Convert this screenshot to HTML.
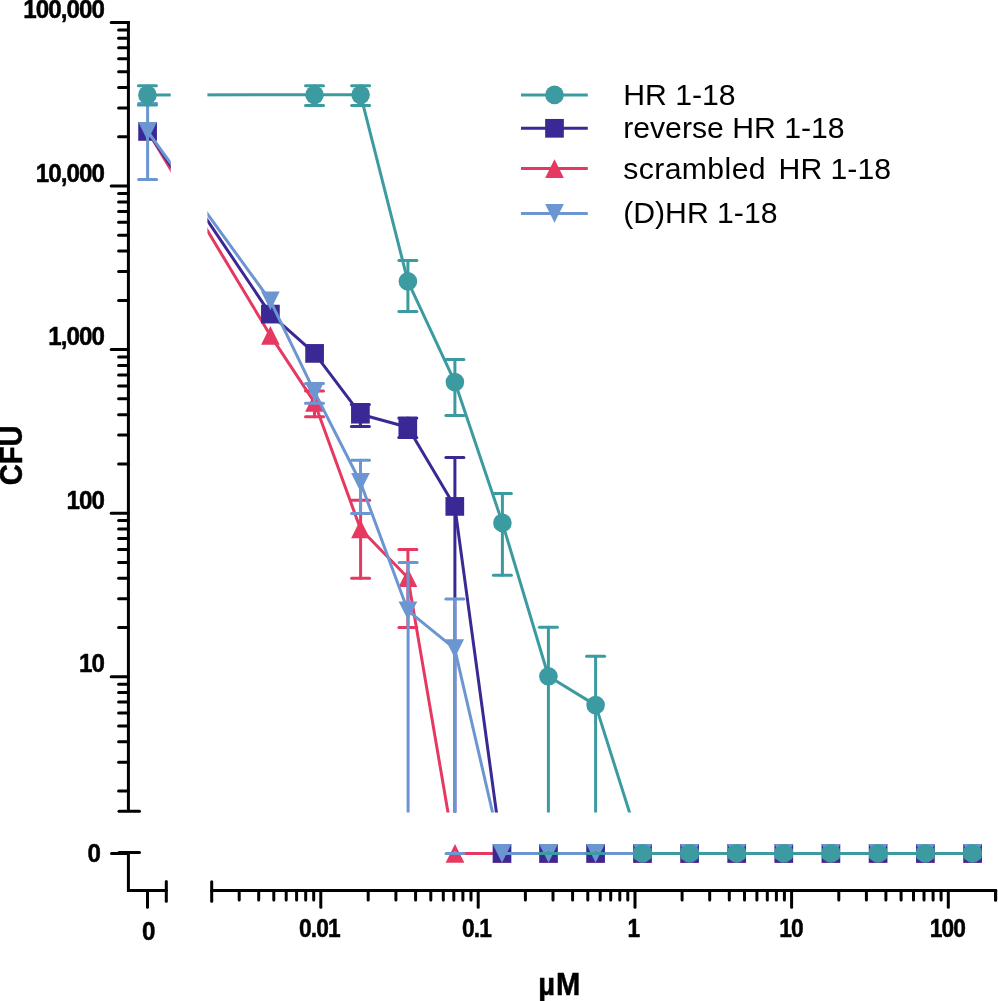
<!DOCTYPE html>
<html><head><meta charset="utf-8"><title>CFU</title>
<style>html,body{margin:0;padding:0;background:#fff}body{width:998px;height:1001px;overflow:hidden}svg{display:block;will-change:transform}text{font-family:"Liberation Sans",sans-serif}</style></head><body>
<svg width="998" height="1001" viewBox="0 0 998 1001">
<rect width="998" height="1001" fill="#fff"/>
<defs>
<clipPath id="cu"><rect x="120" y="0" width="50.7" height="812.5"/><rect x="207.4" y="0" width="800" height="812.5"/></clipPath>
</defs>
<g stroke="#000" stroke-width="3" stroke-linecap="round" fill="none">
<path stroke-linecap="butt" d="M128.4 20.9 V811.0"/>
<path d="M119.0 811.2 H139.5"/>
<path d="M119.0 852.5 H139.5"/>
<path d="M111.5 853.4 H128.4"/>
<path d="M128.4 852.5 V890.5 H166.3"/>
<path d="M166.3 881.5 V901.3"/>
<path d="M147.5 890.5 V907.2"/>
<path d="M211.7 881.7 V901.2"/>
<path d="M211.7 890.5 H995.6"/>
<path d="M111.2 22.4 H128.4"/>
<path d="M111.2 186.0 H128.4"/>
<path d="M118.6 136.8 H128.4"/>
<path d="M118.6 108.0 H128.4"/>
<path d="M118.6 87.5 H128.4"/>
<path d="M118.6 71.7 H128.4"/>
<path d="M118.6 58.7 H128.4"/>
<path d="M118.6 47.8 H128.4"/>
<path d="M118.6 38.3 H128.4"/>
<path d="M118.6 29.9 H128.4"/>
<path d="M111.2 349.6 H128.4"/>
<path d="M118.6 300.4 H128.4"/>
<path d="M118.6 271.5 H128.4"/>
<path d="M118.6 251.1 H128.4"/>
<path d="M118.6 235.3 H128.4"/>
<path d="M118.6 222.3 H128.4"/>
<path d="M118.6 211.4 H128.4"/>
<path d="M118.6 201.9 H128.4"/>
<path d="M118.6 193.5 H128.4"/>
<path d="M111.2 513.2 H128.4"/>
<path d="M118.6 463.9 H128.4"/>
<path d="M118.6 435.1 H128.4"/>
<path d="M118.6 414.7 H128.4"/>
<path d="M118.6 398.8 H128.4"/>
<path d="M118.6 385.9 H128.4"/>
<path d="M118.6 374.9 H128.4"/>
<path d="M118.6 365.4 H128.4"/>
<path d="M118.6 357.1 H128.4"/>
<path d="M111.2 676.7 H128.4"/>
<path d="M118.6 627.5 H128.4"/>
<path d="M118.6 598.7 H128.4"/>
<path d="M118.6 578.3 H128.4"/>
<path d="M118.6 562.4 H128.4"/>
<path d="M118.6 549.4 H128.4"/>
<path d="M118.6 538.5 H128.4"/>
<path d="M118.6 529.0 H128.4"/>
<path d="M118.6 520.6 H128.4"/>
<path d="M118.6 791.1 H128.4"/>
<path d="M118.6 762.3 H128.4"/>
<path d="M118.6 741.8 H128.4"/>
<path d="M118.6 726.0 H128.4"/>
<path d="M118.6 713.0 H128.4"/>
<path d="M118.6 702.1 H128.4"/>
<path d="M118.6 692.6 H128.4"/>
<path d="M118.6 684.2 H128.4"/>
<path d="M239.2 890.5 V900.1"/>
<path d="M258.7 890.5 V900.1"/>
<path d="M273.8 890.5 V900.1"/>
<path d="M286.2 890.5 V900.1"/>
<path d="M296.6 890.5 V900.1"/>
<path d="M305.7 890.5 V900.1"/>
<path d="M313.7 890.5 V900.1"/>
<path d="M320.8 890.5 V907.3"/>
<path d="M368.2 890.5 V900.1"/>
<path d="M395.9 890.5 V900.1"/>
<path d="M415.6 890.5 V900.1"/>
<path d="M430.8 890.5 V900.1"/>
<path d="M443.3 890.5 V900.1"/>
<path d="M453.8 890.5 V900.1"/>
<path d="M462.9 890.5 V900.1"/>
<path d="M471.0 890.5 V900.1"/>
<path d="M478.2 890.5 V907.3"/>
<path d="M525.4 890.5 V900.1"/>
<path d="M553.0 890.5 V900.1"/>
<path d="M572.6 890.5 V900.1"/>
<path d="M587.8 890.5 V900.1"/>
<path d="M600.2 890.5 V900.1"/>
<path d="M610.7 890.5 V900.1"/>
<path d="M619.8 890.5 V900.1"/>
<path d="M627.8 890.5 V900.1"/>
<path d="M635.0 890.5 V907.3"/>
<path d="M682.1 890.5 V900.1"/>
<path d="M709.7 890.5 V900.1"/>
<path d="M729.3 890.5 V900.1"/>
<path d="M744.5 890.5 V900.1"/>
<path d="M756.9 890.5 V900.1"/>
<path d="M767.3 890.5 V900.1"/>
<path d="M776.4 890.5 V900.1"/>
<path d="M784.4 890.5 V900.1"/>
<path d="M791.6 890.5 V907.3"/>
<path d="M838.8 890.5 V900.1"/>
<path d="M866.4 890.5 V900.1"/>
<path d="M885.9 890.5 V900.1"/>
<path d="M901.1 890.5 V900.1"/>
<path d="M913.5 890.5 V900.1"/>
<path d="M924.0 890.5 V900.1"/>
<path d="M933.1 890.5 V900.1"/>
<path d="M941.1 890.5 V900.1"/>
<path d="M948.3 890.5 V907.3"/>
<path d="M995.6 890.5 V900.1"/>
<path d="M995.6 890.5 V900.1"/>
</g>
<text transform="translate(104.00 18.10) scale(0.930 1)" text-anchor="end" font-size="26.0" font-weight="bold" stroke="#000" stroke-width="0.5" stroke-linejoin="round" letter-spacing="-1.00">100,000</text>
<text transform="translate(104.00 181.60) scale(0.930 1)" text-anchor="end" font-size="26.0" font-weight="bold" stroke="#000" stroke-width="0.5" stroke-linejoin="round" letter-spacing="-1.00">10,000</text>
<text transform="translate(104.00 345.00) scale(0.930 1)" text-anchor="end" font-size="26.0" font-weight="bold" stroke="#000" stroke-width="0.5" stroke-linejoin="round" letter-spacing="-1.00">1,000</text>
<text transform="translate(104.00 509.00) scale(0.930 1)" text-anchor="end" font-size="26.0" font-weight="bold" stroke="#000" stroke-width="0.5" stroke-linejoin="round" letter-spacing="-1.00">100</text>
<text transform="translate(104.00 672.40) scale(0.930 1)" text-anchor="end" font-size="26.0" font-weight="bold" stroke="#000" stroke-width="0.5" stroke-linejoin="round" letter-spacing="-1.00">10</text>
<text transform="translate(100.00 862.00) scale(0.930 1)" text-anchor="end" font-size="26.0" font-weight="bold" stroke="#000" stroke-width="0.5" stroke-linejoin="round" letter-spacing="-1.00">0</text>
<text transform="translate(148.30 940.40) scale(0.930 1)" text-anchor="middle" font-size="26.0" font-weight="bold" stroke="#000" stroke-width="0.5" stroke-linejoin="round" letter-spacing="-1.00">0</text>
<text transform="translate(319.40 936.80) scale(0.875 1)" text-anchor="middle" font-size="26.0" font-weight="bold" stroke="#000" stroke-width="0.5" stroke-linejoin="round" letter-spacing="-1.00">0.01</text>
<text transform="translate(476.40 936.80) scale(0.875 1)" text-anchor="middle" font-size="26.0" font-weight="bold" stroke="#000" stroke-width="0.5" stroke-linejoin="round" letter-spacing="-1.00">0.1</text>
<text transform="translate(633.30 936.80) scale(0.875 1)" text-anchor="middle" font-size="26.0" font-weight="bold" stroke="#000" stroke-width="0.5" stroke-linejoin="round" letter-spacing="-1.00">1</text>
<text transform="translate(791.10 936.80) scale(0.875 1)" text-anchor="middle" font-size="26.0" font-weight="bold" stroke="#000" stroke-width="0.5" stroke-linejoin="round" letter-spacing="-1.00">10</text>
<text transform="translate(947.30 936.80) scale(0.875 1)" text-anchor="middle" font-size="26.0" font-weight="bold" stroke="#000" stroke-width="0.5" stroke-linejoin="round" letter-spacing="-1.00">100</text>
<text transform="translate(559.8 995.0) scale(0.945 1)" text-anchor="middle" font-size="30.8" letter-spacing="1.0" font-weight="bold" stroke="#000" stroke-width="0.5">µM</text>
<text transform="translate(21.6 455.3) rotate(-90) scale(0.945 1)" text-anchor="middle" font-size="30.8" font-weight="bold" stroke="#000" stroke-width="0.5">CFU</text>
<g clip-path="url(#cu)" stroke="#e63962" stroke-width="3" fill="none" stroke-linecap="round">
<path d="M314.5 390.9 V416.8"/>
<path d="M305.5 390.9 H323.5"/>
<path d="M305.5 416.8 H323.5"/>
<path d="M360.6 500.2 V578.2"/>
<path d="M351.6 500.2 H369.6"/>
<path d="M351.6 578.2 H369.6"/>
<path d="M407.9 549.4 V627.6"/>
<path d="M398.9 549.4 H416.9"/>
<path d="M398.9 627.6 H416.9"/>
<polyline stroke-linejoin="round" points="147.6,131.0 270.4,335.4 314.5,402.4 360.5,529.0 407.9,577.7 455.0,853.4"/>
</g>
<path d="M455.0 853.4 H972.6" stroke="#e63962" stroke-width="3" fill="none"/>
<path d="M138.25 140.30 L156.95 140.30 L147.60 121.60 Z" fill="#e63962"/>
<path d="M261.05 344.70 L279.75 344.70 L270.40 326.00 Z" fill="#e63962"/>
<path d="M305.15 411.70 L323.85 411.70 L314.50 393.00 Z" fill="#e63962"/>
<path d="M351.15 538.30 L369.85 538.30 L360.50 519.60 Z" fill="#e63962"/>
<path d="M398.60 587.00 L417.30 587.00 L407.95 568.30 Z" fill="#e63962"/>
<path d="M445.65 862.70 L464.35 862.70 L455.00 844.00 Z" fill="#e63962"/>
<path d="M492.65 862.70 L511.35 862.70 L502.00 844.00 Z" fill="#e63962"/>
<path d="M539.15 862.70 L557.85 862.70 L548.50 844.00 Z" fill="#e63962"/>
<path d="M586.25 862.70 L604.95 862.70 L595.60 844.00 Z" fill="#e63962"/>
<path d="M633.15 862.70 L651.85 862.70 L642.50 844.00 Z" fill="#e63962"/>
<path d="M680.25 862.70 L698.95 862.70 L689.60 844.00 Z" fill="#e63962"/>
<path d="M727.35 862.70 L746.05 862.70 L736.70 844.00 Z" fill="#e63962"/>
<path d="M774.45 862.70 L793.15 862.70 L783.80 844.00 Z" fill="#e63962"/>
<path d="M821.55 862.70 L840.25 862.70 L830.90 844.00 Z" fill="#e63962"/>
<path d="M868.75 862.70 L887.45 862.70 L878.10 844.00 Z" fill="#e63962"/>
<path d="M916.05 862.70 L934.75 862.70 L925.40 844.00 Z" fill="#e63962"/>
<path d="M963.25 862.70 L981.95 862.70 L972.60 844.00 Z" fill="#e63962"/>
<g clip-path="url(#cu)" stroke="#3a2994" stroke-width="3" fill="none" stroke-linecap="round">
<path d="M360.4 404.5 V426.4"/>
<path d="M351.4 404.5 H369.4"/>
<path d="M351.4 426.4 H369.4"/>
<path d="M407.8 418.1 V437.4"/>
<path d="M398.8 418.1 H416.8"/>
<path d="M398.8 437.4 H416.8"/>
<path d="M454.9 457.4 V830.0"/>
<path d="M445.9 457.4 H463.9"/>
<polyline stroke-linejoin="round" points="147.6,131.4 270.4,314.1 314.6,353.4 360.4,414.2 407.8,427.3 454.8,506.4 502.0,853.4"/>
</g>
<path d="M502.0 853.4 H972.6" stroke="#3a2994" stroke-width="3" fill="none"/>
<rect x="138.25" y="122.05" width="18.7" height="18.7" fill="#3a2994"/>
<rect x="261.05" y="304.75" width="18.7" height="18.7" fill="#3a2994"/>
<rect x="305.25" y="344.05" width="18.7" height="18.7" fill="#3a2994"/>
<rect x="351.05" y="404.85" width="18.7" height="18.7" fill="#3a2994"/>
<rect x="398.45" y="417.95" width="18.7" height="18.7" fill="#3a2994"/>
<rect x="445.45" y="497.05" width="18.7" height="18.7" fill="#3a2994"/>
<rect x="492.65" y="844.05" width="18.7" height="18.7" fill="#3a2994"/>
<rect x="539.15" y="844.05" width="18.7" height="18.7" fill="#3a2994"/>
<rect x="586.25" y="844.05" width="18.7" height="18.7" fill="#3a2994"/>
<rect x="633.15" y="844.05" width="18.7" height="18.7" fill="#3a2994"/>
<rect x="680.25" y="844.05" width="18.7" height="18.7" fill="#3a2994"/>
<rect x="727.35" y="844.05" width="18.7" height="18.7" fill="#3a2994"/>
<rect x="774.45" y="844.05" width="18.7" height="18.7" fill="#3a2994"/>
<rect x="821.55" y="844.05" width="18.7" height="18.7" fill="#3a2994"/>
<rect x="868.75" y="844.05" width="18.7" height="18.7" fill="#3a2994"/>
<rect x="916.05" y="844.05" width="18.7" height="18.7" fill="#3a2994"/>
<rect x="963.25" y="844.05" width="18.7" height="18.7" fill="#3a2994"/>
<g clip-path="url(#cu)" stroke="#6c96d2" stroke-width="3" fill="none" stroke-linecap="round">
<path d="M147.6 103.4 V179.4"/>
<path d="M138.6 103.4 H156.6"/>
<path d="M138.6 179.4 H156.6"/>
<path d="M314.5 383.4 V403.3"/>
<path d="M305.5 383.4 H323.5"/>
<path d="M305.5 403.3 H323.5"/>
<path d="M360.5 460.2 V513.4"/>
<path d="M351.5 460.2 H369.5"/>
<path d="M351.5 513.4 H369.5"/>
<path d="M408.1 562.4 V830.0"/>
<path d="M399.1 562.4 H417.1"/>
<path d="M454.8 598.9 V830.0"/>
<path d="M445.8 598.9 H463.8"/>
<polyline stroke-linejoin="round" points="147.6,131.4 270.4,300.8 314.5,391.8 360.4,482.3 407.9,610.7 454.7,648.6 502.0,853.4"/>
</g>
<path d="M502.0 853.4 H972.6" stroke="#6c96d2" stroke-width="3" fill="none"/>
<path d="M446.0 853.4 H464.0 M455.0 852.2 V853.4" stroke="#6c96d2" stroke-width="3" fill="none" stroke-linecap="round"/>
<path d="M138.25 122.10 L156.95 122.10 L147.60 140.80 Z" fill="#6c96d2"/>
<path d="M261.05 291.50 L279.75 291.50 L270.40 310.20 Z" fill="#6c96d2"/>
<path d="M305.15 382.50 L323.85 382.50 L314.50 401.20 Z" fill="#6c96d2"/>
<path d="M351.10 473.00 L369.80 473.00 L360.45 491.70 Z" fill="#6c96d2"/>
<path d="M398.60 601.40 L417.30 601.40 L407.95 620.10 Z" fill="#6c96d2"/>
<path d="M445.35 639.30 L464.05 639.30 L454.70 658.00 Z" fill="#6c96d2"/>
<path d="M492.65 844.10 L511.35 844.10 L502.00 862.80 Z" fill="#6c96d2"/>
<path d="M539.15 844.10 L557.85 844.10 L548.50 862.80 Z" fill="#6c96d2"/>
<path d="M586.25 844.10 L604.95 844.10 L595.60 862.80 Z" fill="#6c96d2"/>
<path d="M633.15 844.10 L651.85 844.10 L642.50 862.80 Z" fill="#6c96d2"/>
<path d="M680.25 844.10 L698.95 844.10 L689.60 862.80 Z" fill="#6c96d2"/>
<path d="M727.35 844.10 L746.05 844.10 L736.70 862.80 Z" fill="#6c96d2"/>
<path d="M774.45 844.10 L793.15 844.10 L783.80 862.80 Z" fill="#6c96d2"/>
<path d="M821.55 844.10 L840.25 844.10 L830.90 862.80 Z" fill="#6c96d2"/>
<path d="M868.75 844.10 L887.45 844.10 L878.10 862.80 Z" fill="#6c96d2"/>
<path d="M916.05 844.10 L934.75 844.10 L925.40 862.80 Z" fill="#6c96d2"/>
<path d="M963.25 844.10 L981.95 844.10 L972.60 862.80 Z" fill="#6c96d2"/>
<g clip-path="url(#cu)" stroke="#3c9ba0" stroke-width="3" fill="none" stroke-linecap="round">
<path d="M147.4 85.8 V105.0"/>
<path d="M138.4 85.8 H156.4"/>
<path d="M138.4 105.0 H156.4"/>
<path d="M314.5 85.7 V105.5"/>
<path d="M305.5 85.7 H323.5"/>
<path d="M305.5 105.5 H323.5"/>
<path d="M360.6 85.7 V105.5"/>
<path d="M351.6 85.7 H369.6"/>
<path d="M351.6 105.5 H369.6"/>
<path d="M407.9 260.6 V311.5"/>
<path d="M398.9 260.6 H416.9"/>
<path d="M398.9 311.5 H416.9"/>
<path d="M454.9 359.5 V415.6"/>
<path d="M445.9 359.5 H463.9"/>
<path d="M445.9 415.6 H463.9"/>
<path d="M502.4 493.5 V575.2"/>
<path d="M493.4 493.5 H511.4"/>
<path d="M493.4 575.2 H511.4"/>
<path d="M548.4 627.3 V830.0"/>
<path d="M539.4 627.3 H557.4"/>
<path d="M595.6 656.3 V830.0"/>
<path d="M586.6 656.3 H604.6"/>
<polyline stroke-linejoin="round" points="147.4,94.9 314.5,94.8 360.6,94.8 407.9,281.4 454.9,382.1 502.4,522.9 548.4,676.3 595.6,705.1 642.5,853.4"/>
</g>
<path d="M642.5 853.4 H972.6" stroke="#3c9ba0" stroke-width="3" fill="none"/>
<path d="M539.5 853.4 H557.5 M548.5 852.2 V853.4" stroke="#3c9ba0" stroke-width="3" fill="none" stroke-linecap="round"/>
<path d="M586.6 853.4 H604.6 M595.6 852.2 V853.4" stroke="#3c9ba0" stroke-width="3" fill="none" stroke-linecap="round"/>
<circle cx="147.4" cy="94.9" r="9.3" fill="#3c9ba0"/>
<circle cx="314.5" cy="94.8" r="9.3" fill="#3c9ba0"/>
<circle cx="360.6" cy="94.8" r="9.3" fill="#3c9ba0"/>
<circle cx="407.9" cy="281.4" r="9.3" fill="#3c9ba0"/>
<circle cx="454.9" cy="382.1" r="9.3" fill="#3c9ba0"/>
<circle cx="502.4" cy="522.9" r="9.3" fill="#3c9ba0"/>
<circle cx="548.4" cy="676.3" r="9.3" fill="#3c9ba0"/>
<circle cx="595.6" cy="705.1" r="9.3" fill="#3c9ba0"/>
<circle cx="642.5" cy="853.4" r="9.3" fill="#3c9ba0"/>
<circle cx="689.6" cy="853.4" r="9.3" fill="#3c9ba0"/>
<circle cx="736.7" cy="853.4" r="9.3" fill="#3c9ba0"/>
<circle cx="783.8" cy="853.4" r="9.3" fill="#3c9ba0"/>
<circle cx="830.9" cy="853.4" r="9.3" fill="#3c9ba0"/>
<circle cx="878.1" cy="853.4" r="9.3" fill="#3c9ba0"/>
<circle cx="925.4" cy="853.4" r="9.3" fill="#3c9ba0"/>
<circle cx="972.6" cy="853.4" r="9.3" fill="#3c9ba0"/>
<rect x="633.50" y="847.20" width="18.0" height="12.4" rx="3.2" ry="3.2" fill="#3c9ba0"/>
<rect x="680.60" y="847.20" width="18.0" height="12.4" rx="3.2" ry="3.2" fill="#3c9ba0"/>
<rect x="727.70" y="847.20" width="18.0" height="12.4" rx="3.2" ry="3.2" fill="#3c9ba0"/>
<rect x="774.80" y="847.20" width="18.0" height="12.4" rx="3.2" ry="3.2" fill="#3c9ba0"/>
<rect x="821.90" y="847.20" width="18.0" height="12.4" rx="3.2" ry="3.2" fill="#3c9ba0"/>
<rect x="869.10" y="847.20" width="18.0" height="12.4" rx="3.2" ry="3.2" fill="#3c9ba0"/>
<rect x="916.40" y="847.20" width="18.0" height="12.4" rx="3.2" ry="3.2" fill="#3c9ba0"/>
<rect x="963.60" y="847.20" width="18.0" height="12.4" rx="3.2" ry="3.2" fill="#3c9ba0"/>
<path d="M521 94.9 H587.8" stroke="#3c9ba0" stroke-width="3" fill="none"/>
<circle cx="554.5" cy="94.9" r="9.3" fill="#3c9ba0"/>
<text x="623.2" y="104.9" font-size="30.2">HR 1-18</text>
<path d="M521 128.3 H587.8" stroke="#3a2994" stroke-width="3" fill="none"/>
<rect x="545.15" y="118.95" width="18.7" height="18.7" fill="#3a2994"/>
<text x="623.2" y="138.2" font-size="30.2">reverse HR 1-18</text>
<path d="M521 168.6 H587.8" stroke="#e63962" stroke-width="3" fill="none"/>
<path d="M545.15 177.90 L563.85 177.90 L554.50 159.20 Z" fill="#e63962"/>
<text y="178.9" font-size="30.2"><tspan x="623.2" letter-spacing="0.4">scrambled</tspan><tspan x="778.6">HR 1-18</tspan></text>
<path d="M521 213.4 H587.8" stroke="#6c96d2" stroke-width="3" fill="none"/>
<path d="M545.15 204.10 L563.85 204.10 L554.50 222.80 Z" fill="#6c96d2"/>
<text x="623.2" y="223.1" font-size="30.2">(D)HR 1-18</text>
</svg></body></html>
